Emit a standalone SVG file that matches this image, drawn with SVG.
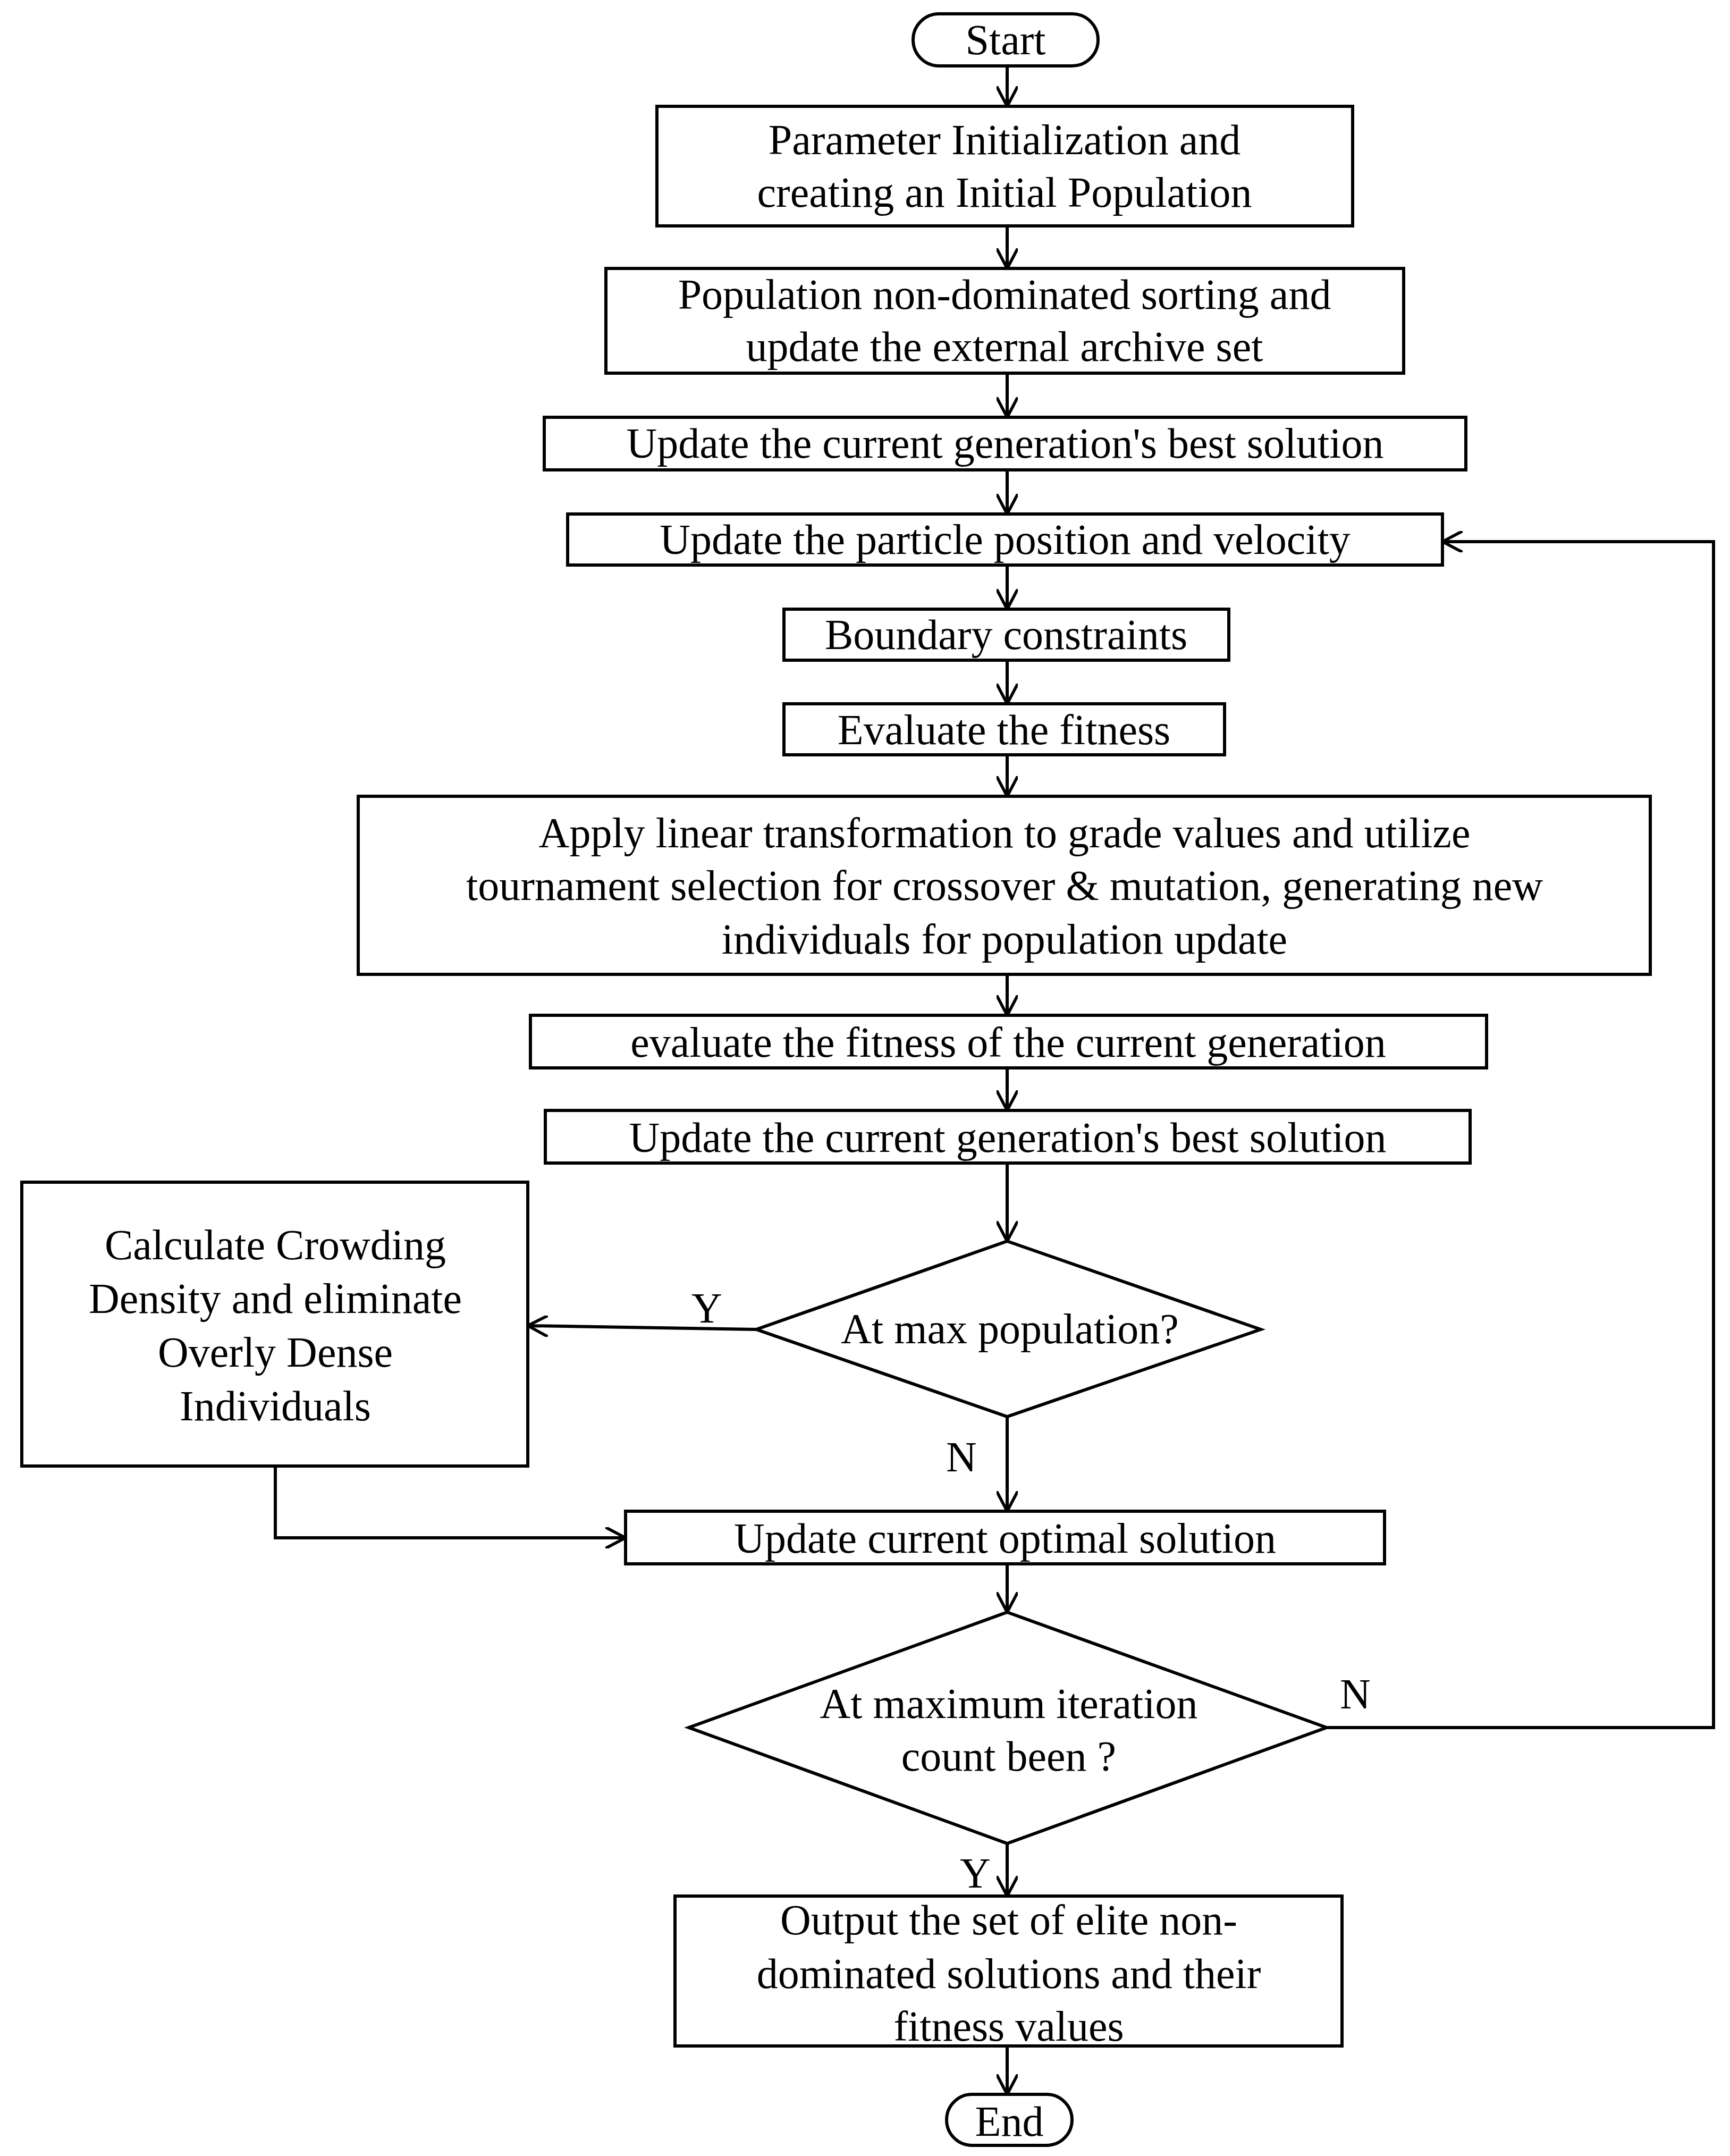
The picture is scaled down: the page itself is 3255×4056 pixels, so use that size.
<svg xmlns="http://www.w3.org/2000/svg" width="3255" height="4056" viewBox="0 0 3255 4056">
<style>
.b{fill:#fff;stroke:#000;stroke-width:6}
text{font-family:"Liberation Serif",serif;font-size:80px;text-anchor:middle;fill:#000}
.c{fill:none;stroke:#000;stroke-width:6}
</style>
<defs><marker id="a" viewBox="0 0 20 20" refX="19" refY="10" markerWidth="20" markerHeight="20" markerUnits="userSpaceOnUse" orient="auto"><path d="M0 0L19 10L0 20" fill="none" stroke="#000" stroke-width="3.5"/></marker>
<marker id="m" viewBox="0 0 10 10" refX="9.5" refY="5" markerWidth="40" markerHeight="40" markerUnits="userSpaceOnUse" orient="auto"><path d="M0 0L9.5 5L0 10" fill="none" stroke="#000" stroke-width="1.4"/></marker></defs>
<g id="connectors" class="c" marker-end="url(#m)">
<path d="M1895 124V200"/><path d="M1895 425V505"/><path d="M1895 702V785"/><path d="M1895 884V967"/><path d="M1895 1063V1146"/><path d="M1895 1242V1324"/><path d="M1895 1420V1498"/><path d="M1895 1833V1910"/><path d="M1895 2009V2089"/><path d="M1895 2188V2335"/><path d="M1423 2501L993 2494"/><path d="M1895 2665V2843"/><path d="M518 2758V2893H1177"/><path d="M1895 2942V3033"/><path d="M2496 3250H3224V1019H2714"/><path d="M1895 3468V3567"/><path d="M1895 3849V3940"/>
</g>
<g id="start"><rect class="b" x="1718" y="26" width="348" height="98" rx="49"/><text x="1892" y="102">Start</text></g>
<g id="n1"><rect class="b" x="1236" y="200" width="1309" height="225"/><text x="1890" y="290">Parameter Initialization and</text><text x="1890" y="389">creating an Initial Population</text></g>
<g id="n2"><rect class="b" x="1140" y="505" width="1501" height="197"/><text x="1890" y="581">Population non-dominated sorting and</text><text x="1890" y="679">update the external archive set</text></g>
<g id="n3"><rect class="b" x="1024" y="785" width="1734" height="99"/><text x="1891" y="861">Update the current generation's best solution</text></g>
<g id="n4"><rect class="b" x="1068" y="967" width="1646" height="96"/><text x="1891" y="1042">Update the particle position and velocity</text></g>
<g id="n5"><rect class="b" x="1475" y="1146" width="837" height="96"/><text x="1893" y="1221">Boundary constraints</text></g>
<g id="n6"><rect class="b" x="1475" y="1324" width="829" height="96"/><text x="1889" y="1400">Evaluate the fitness</text></g>
<g id="n7"><rect class="b" x="674" y="1498" width="2431" height="335"/><text x="1890" y="1594">Apply linear transformation to grade values and utilize</text><text x="1890" y="1693">tournament selection for crossover &amp; mutation, generating new</text><text x="1890" y="1794">individuals for population update</text></g>
<g id="n8"><rect class="b" x="998" y="1910" width="1799" height="99"/><text x="1897" y="1988">evaluate the fitness of the current generation</text></g>
<g id="n9"><rect class="b" x="1026" y="2089" width="1740" height="99"/><text x="1896" y="2167">Update the current generation's best solution</text></g>
<g id="d1"><path class="b" d="M1895 2335L2372 2501L1895 2665L1423 2501Z"/><text x="1900" y="2527">At max population?</text><text x="1330" y="2488">Y</text><text x="1809" y="2768">N</text></g>
<g id="crowd"><rect class="b" x="41" y="2224" width="952" height="534"/><text x="518" y="2369">Calculate Crowding</text><text x="518" y="2470">Density and eliminate</text><text x="518" y="2571">Overly Dense</text><text x="518" y="2672">Individuals</text></g>
<g id="n10"><rect class="b" x="1177" y="2843" width="1428" height="99"/><text x="1891" y="2921">Update current optimal solution</text></g>
<g id="d2"><path class="b" d="M1895 3033L2496 3250L1895 3468L1296 3250Z"/><text x="1898" y="3232">At maximum iteration</text><text x="1898" y="3331">count been ?</text><text x="2550" y="3214">N</text><text x="1835" y="3551">Y</text></g>
<g id="n11"><rect class="b" x="1270" y="3567" width="1255" height="282"/><text x="1898" y="3639">Output the set of elite non-</text><text x="1898" y="3740">dominated solutions and their</text><text x="1898" y="3839">fitness values</text></g>
<g id="end"><rect class="b" x="1781" y="3940" width="236" height="96" rx="48"/><text x="1899" y="4018">End</text></g>
</svg>
